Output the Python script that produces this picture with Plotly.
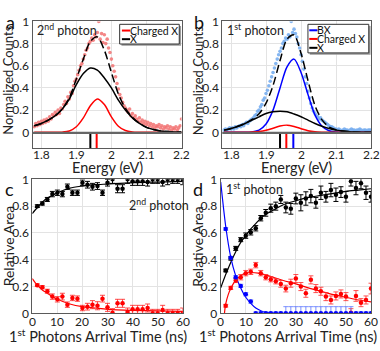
import plotly.graph_objects as go

# ---------------- DATA ----------------
# Panel a / b fit curves (energy grid read every 0.02 eV)
fit_energy = [1.78, 1.80, 1.82, 1.84, 1.86, 1.88, 1.90, 1.92, 1.94, 1.96, 1.98,
              2.00, 2.02, 2.04, 2.06, 2.08, 2.10, 2.12, 2.14, 2.16, 2.18, 2.20]
a_fit_X = [0.06, 0.08, 0.11, 0.15, 0.21, 0.30, 0.43, 0.53, 0.58, 0.56, 0.49,
           0.40, 0.29, 0.20, 0.13, 0.08, 0.045, 0.025, 0.013, 0.007, 0.003, 0.002]
a_fit_CX = [0.0, 0.0, 0.0, 0.0, 0.002, 0.012, 0.05, 0.13, 0.24, 0.30, 0.25,
            0.14, 0.055, 0.016, 0.004, 0.001, 0.0, 0.0, 0.0, 0.0, 0.0, 0.0]
a_fit_sum = [0.06, 0.08, 0.11, 0.15, 0.212, 0.312, 0.48, 0.66, 0.82, 0.86, 0.74,
             0.54, 0.345, 0.216, 0.134, 0.081, 0.045, 0.025, 0.013, 0.007, 0.003, 0.002]

b_fit_BX = [0.0, 0.0, 0.0, 0.0, 0.004, 0.02, 0.075, 0.20, 0.40, 0.59, 0.66,
            0.54, 0.34, 0.155, 0.055, 0.014, 0.003, 0.0, 0.0, 0.0, 0.0, 0.0]
b_fit_CX = [0.0, 0.0, 0.0, 0.0, 0.002, 0.007, 0.018, 0.037, 0.057, 0.065, 0.053,
            0.033, 0.015, 0.005, 0.0015, 0.0, 0.0, 0.0, 0.0, 0.0, 0.0, 0.0]
b_fit_X = [0.02, 0.035, 0.055, 0.08, 0.11, 0.14, 0.17, 0.185, 0.19, 0.185, 0.165,
           0.14, 0.11, 0.08, 0.055, 0.035, 0.02, 0.012, 0.006, 0.003, 0.001, 0.0005]
b_fit_sum = [0.02, 0.035, 0.055, 0.08, 0.116, 0.167, 0.263, 0.422, 0.647, 0.84, 0.878,
             0.713, 0.465, 0.24, 0.112, 0.049, 0.023, 0.012, 0.006, 0.003, 0.001, 0.0005]

# measured spectra (energy step 0.004 eV from 1.78 eV)
spec_energy = [round(1.78 + 0.004 * i, 3) for i in range(106)]
a_counts = [0.05, 0.08, 0.06, 0.09, 0.07, 0.10, 0.08, 0.11, 0.09, 0.12,
            0.10, 0.14, 0.12, 0.16, 0.15, 0.18, 0.16, 0.20, 0.17, 0.22,
            0.21, 0.25, 0.28, 0.26, 0.32, 0.30, 0.36, 0.35, 0.42, 0.46,
            0.48, 0.52, 0.56, 0.60, 0.62, 0.66, 0.70, 0.74, 0.76, 0.80,
            0.82, 0.85, 0.83, 0.88, 0.86, 0.90, 1.00, 0.84, 0.89, 0.81,
            0.88, 0.80, 0.84, 0.76, 0.72, 0.66, 0.60, 0.55, 0.50, 0.44,
            0.39, 0.34, 0.31, 0.27, 0.24, 0.22, 0.20, 0.18, 0.21, 0.15,
            0.17, 0.13, 0.15, 0.12, 0.10, 0.13, 0.09, 0.11, 0.08, 0.10,
            0.07, 0.09, 0.06, 0.08, 0.05, 0.07, 0.04, 0.06, 0.05, 0.07,
            0.04, 0.06, 0.03, 0.05, 0.04, 0.06, 0.03, 0.05, 0.02, 0.04,
            0.03, 0.05, 0.02, 0.04, 0.06, 0.12]
b_counts = [0.02, 0.03, 0.02, 0.03, 0.04, 0.03, 0.04, 0.03, 0.05, 0.04,
            0.05, 0.06, 0.05, 0.07, 0.06, 0.08, 0.09, 0.08, 0.10, 0.11,
            0.12, 0.13, 0.15, 0.16, 0.19, 0.20, 0.23, 0.25, 0.29, 0.31,
            0.35, 0.38, 0.42, 0.46, 0.50, 0.54, 0.58, 0.62, 0.66, 0.70,
            0.73, 0.76, 0.80, 0.82, 0.85, 0.84, 0.88, 0.86, 1.00, 0.90,
            0.93, 0.89, 0.86, 0.80, 0.76, 0.70, 0.64, 0.57, 0.50, 0.44,
            0.37, 0.31, 0.26, 0.22, 0.19, 0.17, 0.15, 0.14, 0.12, 0.13,
            0.11, 0.10, 0.09, 0.08, 0.07, 0.06, 0.05, 0.05, 0.04, 0.03,
            0.03, 0.02, 0.03, 0.02, 0.01, 0.02, 0.03, 0.02, 0.02, 0.01,
            0.02, 0.03, 0.02, 0.02, 0.01, 0.02, 0.02, 0.03, 0.02, 0.01,
            0.02, 0.02, 0.01, 0.02, 0.02, 0.02]

# peak positions (stick markers)
a_peaks = [1.940, 1.958]
a_peak_colors = ["black", "red"]
b_peaks = [1.940, 1.958, 1.978]
b_peak_colors = ["black", "red", "blue"]

# Panels c / d : time-resolved relative areas
t = list(range(2, 61, 2))
c_X = [0.80, 0.82, 0.85, 0.89, 0.90, 0.89, 0.945, 0.90, 0.90, 0.975,
       0.96, 0.945, 0.95, 0.90, 0.975, 1.0, 0.93, 0.93, 1.0, 0.985,
       0.985, 0.985, 0.98, 1.0, 1.0, 0.98, 1.0, 1.0, 1.0, 1.0]
c_X_err = [0.01, 0.012, 0.015, 0.02, 0.02, 0.02, 0.02, 0.02, 0.02, 0.02,
           0.025, 0.025, 0.025, 0.02, 0.025, 0.03, 0.03, 0.03, 0.03, 0.03,
           0.03, 0.03, 0.03, 0.03, 0.03, 0.03, 0.04, 0.03, 0.03, 0.04]
c_CX = [0.21, 0.195, 0.165, 0.125, 0.105, 0.125, 0.065, 0.115, 0.11, 0.04,
        0.05, 0.065, 0.057, 0.11, 0.045, 0.005, 0.075, 0.075, 0.01, 0.03,
        0.03, 0.03, 0.04, 0.0, 0.0, 0.025, 0.0, 0.0, 0.0, 0.0]
c_CX_err = [0.01, 0.012, 0.015, 0.02, 0.02, 0.025, 0.02, 0.02, 0.02, 0.02,
            0.025, 0.03, 0.03, 0.025, 0.03, 0.03, 0.03, 0.03, 0.03, 0.03,
            0.03, 0.03, 0.03, 0.03, 0.03, 0.035, 0.03, 0.03, 0.03, 0.04]
c_fit_t = [0, 2, 4, 6, 8, 10, 15, 20, 25, 30, 40, 50, 60]
c_fit_X = [0.745, 0.79, 0.83, 0.86, 0.88, 0.90, 0.935, 0.95, 0.96, 0.965, 0.975, 0.98, 0.985]
c_fit_CX = [0.26, 0.21, 0.175, 0.15, 0.125, 0.105, 0.07, 0.05, 0.04, 0.03, 0.022, 0.018, 0.015]

d_X = [0.32, 0.41, 0.485, 0.55, 0.58, 0.605, 0.635, 0.71, 0.75, 0.785,
       0.80, 0.85, 0.79, 0.78, 0.857, 0.825, 0.857, 0.875, 0.825, 0.90,
       0.87, 0.92, 0.885, 0.905, 0.87, 0.985, 0.935, 0.97, 0.90, 0.87]
d_X_err = [0.01, 0.012, 0.015, 0.015, 0.02, 0.02, 0.02, 0.02, 0.025, 0.03,
           0.03, 0.03, 0.04, 0.04, 0.04, 0.06, 0.05, 0.05, 0.04, 0.05,
           0.04, 0.05, 0.05, 0.04, 0.04, 0.035, 0.05, 0.04, 0.05, 0.04]
d_CX = [0.057, 0.19, 0.245, 0.27, 0.30, 0.31, 0.36, 0.30, 0.27, 0.255,
        0.24, 0.22, 0.185, 0.225, 0.26, 0.20, 0.15, 0.25, 0.185, 0.165,
        0.125, 0.10, 0.13, 0.145, 0.125, 0.005, 0.13, 0.08, 0.10, 0.185]
d_CX_err = [0.01, 0.012, 0.015, 0.02, 0.02, 0.02, 0.02, 0.02, 0.02, 0.02,
            0.02, 0.025, 0.025, 0.03, 0.03, 0.03, 0.03, 0.03, 0.03, 0.03,
            0.03, 0.03, 0.03, 0.03, 0.03, 0.03, 0.04, 0.03, 0.03, 0.04]
d_BX = [0.63, 0.415, 0.27, 0.205, 0.143, 0.088, 0.0, 0.0, 0.0, 0.0,
        0.0, 0.0, 0.0, 0.0, 0.0, 0.0, 0.0, 0.0, 0.0, 0.0,
        0.0, 0.0, 0.0, 0.0, 0.0, 0.0, 0.0, 0.0, 0.0, 0.0]
d_BX_err = [0.01, 0.01, 0.012, 0.012, 0.012, 0.012, 0.01, 0.01, 0.01, 0.01,
            0.01, 0.01, 0.05, 0.05, 0.05, 0.05, 0.05, 0.05, 0.05, 0.05,
            0.05, 0.05, 0.05, 0.05, 0.05, 0.05, 0.01, 0.01, 0.01, 0.01]
d_fit_t = [0, 2, 4, 6, 8, 10, 12, 14, 16, 18, 20, 25, 30, 35, 40, 45, 50, 55, 60]
d_fit_X = [0.19, 0.29, 0.38, 0.46, 0.53, 0.58, 0.63, 0.67, 0.71, 0.74, 0.76,
           0.81, 0.84, 0.865, 0.88, 0.895, 0.91, 0.92, 0.93]
d_fit_BX = [0.98, 0.65, 0.42, 0.28, 0.19, 0.12, 0.075, 0.04, 0.02, 0.008, 0.003,
            0.0, 0.0, 0.0, 0.0, 0.0, 0.0, 0.0, 0.0]
d_fit_CX_t = [1.5, 2, 3, 4, 5, 6, 8, 10, 12, 15, 20, 25, 30, 35, 40, 45, 50, 55, 60]
d_fit_CX = [0.0, 0.07, 0.14, 0.185, 0.22, 0.245, 0.28, 0.30, 0.305, 0.30, 0.275,
            0.245, 0.22, 0.19, 0.165, 0.14, 0.12, 0.10, 0.085]

energy_ticks = [1.8, 1.9, 2.0, 2.1, 2.2]
energy_ticktext = ["1.8", "1.9", "2", "2.1", "2.2"]
y_ticks = [0, 0.2, 0.4, 0.6, 0.8, 1.0]
y_ticktext = ["0", "0.2", "0.4", "0.6", "0.8", "1"]
t_ticks = [0, 10, 20, 30, 40, 50, 60]
t_ticktext = ["0", "10", "20", "30", "40", "50", "60"]

# ---------------- FIGURE ----------------
FONT = "Lato"
W, H = 380, 351
fig = go.Figure()

SPEC_YMIN = -0.145

def px_x(p):
    return p / W

def px_y(p):
    return 1 - p / H

dom = {
    "a": ([px_x(32.5), px_x(181.5)], [px_y(146.7), px_y(14)]),
    "b": ([px_x(222.3), px_x(371)], [px_y(146.7), px_y(14)]),
    "c": ([px_x(32.3), px_x(182.7)], [px_y(319), px_y(179)]),
    "d": ([px_x(220.7), px_x(371)], [px_y(319), px_y(179)]),
}
ax_ids = {"a": ("x", "y"), "b": ("x2", "y2"), "c": ("x3", "y3"), "d": ("x4", "y4")}

LW = 1.5

def line(xs, ys, color, panel, dash="solid", width=LW):
    xa, ya = ax_ids[panel]
    fig.add_trace(go.Scatter(x=xs, y=ys, mode="lines", line=dict(color=color, width=width, dash=dash,
                                                                shape="spline", smoothing=0.8),
                             xaxis=xa, yaxis=ya, showlegend=False, hoverinfo="skip"))

def pts(xs, ys, color, panel, size=4, err=None, errcolor=None, opacity=1.0):
    xa, ya = ax_ids[panel]
    kw = {}
    if err is not None:
        kw["error_y"] = dict(type="data", array=err, visible=True, color=errcolor or color,
                             thickness=1, width=2.5)
    fig.add_trace(go.Scatter(x=xs, y=ys, mode="markers",
                             marker=dict(color=color, size=size, opacity=opacity, line=dict(width=0)),
                             xaxis=xa, yaxis=ya, showlegend=False, **kw))

def sticks(peaks, colors, panel):
    xa, ya = ax_ids[panel]
    for e, c in zip(peaks, colors):
        fig.add_trace(go.Scatter(x=[e, e], y=[SPEC_YMIN, -0.012], mode="lines",
                                 line=dict(color=c, width=2), xaxis=xa, yaxis=ya,
                                 showlegend=False, hoverinfo="skip"))

# panel a
pts(spec_energy, a_counts, "#f27272", "a", size=3.6, opacity=0.85)
line(fit_energy, a_fit_CX, "red", "a")
line(fit_energy, a_fit_X, "black", "a")
line(fit_energy, a_fit_sum, "black", "a", dash="8px,4px")
sticks(a_peaks, a_peak_colors, "a")

# panel b
pts(spec_energy, b_counts, "#78aef0", "b", size=3.6, opacity=0.9)
line(fit_energy, b_fit_BX, "blue", "b")
line(fit_energy, b_fit_CX, "red", "b")
line(fit_energy, b_fit_X, "black", "b")
line(fit_energy, b_fit_sum, "black", "b", dash="8px,4px")
sticks(b_peaks, b_peak_colors, "b")

# panel c
line(c_fit_t, c_fit_X, "black", "c", width=1.2)
line(c_fit_t, c_fit_CX, "red", "c", width=1.2)
pts(t, c_X, "black", "c", size=4.5, err=c_X_err)
pts(t, c_CX, "red", "c", size=4.5, err=c_CX_err, errcolor="rgba(255,40,40,0.85)")

# panel d
line(d_fit_t, d_fit_X, "black", "d", width=1.2)
line(d_fit_CX_t, d_fit_CX, "red", "d", width=1.2)
line(d_fit_t, d_fit_BX, "blue", "d", width=1.2)
pts(t, d_X, "black", "d", size=4.5, err=d_X_err)
pts(t, d_CX, "red", "d", size=4.5, err=d_CX_err, errcolor="rgba(255,40,40,0.8)")
pts(t, d_BX, "blue", "d", size=4.5, err=d_BX_err, errcolor="rgba(70,100,255,0.7)")

GRID = "#e3e3e3"
FRAME = "#5a5a5a"
TICK_SIZE = 12
tickfont = dict(family=FONT, size=TICK_SIZE, color="#222")
XTITLE_SIZE = 14.5

layout = dict(
    width=W, height=H, margin=dict(l=0, r=0, t=0, b=0),
    paper_bgcolor="white", plot_bgcolor="white", showlegend=False,
    font=dict(family=FONT, color="#222"),
)

for p in "abcd":
    xa, ya = ax_ids[p]
    xk = "xaxis" + xa[1:]
    yk = "yaxis" + ya[1:]
    xdom, ydom = dom[p]
    spectral = p in "ab"
    layout[xk] = dict(
        domain=xdom, anchor=ya,
        range=[1.775, 2.2] if spectral else [0, 60],
        tickvals=energy_ticks if spectral else t_ticks,
        showticklabels=False,
        showgrid=True, gridcolor=GRID, gridwidth=1, zeroline=False,
        showline=True, mirror=True, linecolor=FRAME, linewidth=1, ticks="",
    )
    layout[yk] = dict(
        domain=ydom, anchor=xa,
        range=[SPEC_YMIN, 1.0] if spectral else [0, 1.0],
        tickvals=y_ticks, ticktext=y_ticktext,
        showgrid=True, gridcolor=GRID, gridwidth=1, zeroline=False,
        showline=True, mirror=True, linecolor=FRAME, linewidth=1,
        ticks="", tickfont=tickfont, ticklabelstandoff=0,
    )

shapes = []
annotations = []

# x tick labels, positioned on the axis scale just under each panel
for p in "abcd":
    xa, _ = ax_ids[p]
    spectral = p in "ab"
    vals = energy_ticks if spectral else t_ticks
    texts = energy_ticktext if spectral else t_ticktext
    ypix = 153 if spectral else 328
    for v, s in zip(vals, texts):
        annotations.append(dict(xref=xa, yref="paper", x=v, y=px_y(ypix), text=s, showarrow=False,
                                xanchor="center", yanchor="middle", font=tickfont, borderpad=0))

# axis titles as paper annotations
def ptext(x, y, text, size, angle=0, anchor="center"):
    annotations.append(dict(xref="paper", yref="paper", x=px_x(x), y=px_y(y), text=text,
                            showarrow=False, xanchor=anchor, yanchor="middle", textangle=angle,
                            borderpad=0, font=dict(family=FONT, size=size, color="#222")))

ptext(107, 167, "Energy (eV)", XTITLE_SIZE)
ptext(296.6, 167, "Energy (eV)", XTITLE_SIZE)
ptext(8, 76, "Normalized Counts", 13, angle=-90)
ptext(197.5, 76, "Normalized Counts", 13, angle=-90)
ptext(8, 249, "Relative Area", 14, angle=-90)
ptext(197.5, 249, "Relative Area", 14, angle=-90)
ptext(98, 342, "1<sup>st</sup> Photons Arrival Time (ns)", XTITLE_SIZE)
ptext(288, 342, "1<sup>st</sup> Photons Arrival Time (ns)", XTITLE_SIZE)

# white band + baseline in spectral panels
for p in "ab":
    xa, ya = ax_ids[p]
    shapes.append(dict(type="rect", xref=xa + " domain", yref=ya, x0=0, x1=1, y0=SPEC_YMIN, y1=0,
                       fillcolor="white", line=dict(width=0), layer="below"))
    shapes.append(dict(type="line", xref=xa + " domain", yref=ya, x0=0, x1=1, y0=-0.004, y1=-0.004,
                       line=dict(color="#666", width=2.2), layer="above"))

# manual legends
def legend(panel, x0, x1, y0, y1, rows):
    xa, ya = ax_ids[panel]
    xr, yr = xa + " domain", ya + " domain"
    shapes.append(dict(type="rect", xref=xr, yref=yr, x0=x0 + 0.012, x1=x1 + 0.012, y0=y0 - 0.014, y1=y1 - 0.014,
                       fillcolor="#9a9a9a", line=dict(width=0), layer="above"))
    shapes.append(dict(type="rect", xref=xr, yref=yr, x0=x0, x1=x1, y0=y0, y1=y1,
                       fillcolor="white", line=dict(color="#333", width=1), layer="above"))
    for (label, color, yy, lx0, lx1) in rows:
        shapes.append(dict(type="line", xref=xr, yref=yr, x0=lx0, x1=lx1, y0=yy, y1=yy,
                           line=dict(color=color, width=2), layer="above"))
        annotations.append(dict(xref=xr, yref=yr, x=lx1 + 0.004, y=yy, text=label, showarrow=False,
                                xanchor="left", yanchor="middle", xshift=-2, borderpad=0,
                                font=dict(family=FONT, size=10.5, color="#111")))

legend("a", 0.585, 0.985, 0.822, 0.977,
       [("Charged X", "red", 0.928, 0.600, 0.655), ("X", "black", 0.860, 0.600, 0.655)])
legend("b", 0.576, 0.985, 0.752, 0.977,
       [("BX", "blue", 0.930, 0.585, 0.640), ("Charged X", "red", 0.862, 0.585, 0.640),
        ("X", "black", 0.792, 0.585, 0.640)])

# in-panel labels
def label(panel, x, y, text, anchor="left"):
    xa, ya = ax_ids[panel]
    annotations.append(dict(xref=xa + " domain", yref=ya + " domain", x=x, y=y, text=text,
                            showarrow=False, xanchor=anchor, yanchor="middle",
                            font=dict(family=FONT, size=12.5, color="#222")))

label("a", 0.015, 0.935, "2<sup>nd</sup> photon")
label("b", 0.015, 0.935, "1<sup>st</sup> photon")
label("c", 0.63, 0.81, "2<sup>nd</sup> photon")
label("d", 0.02, 0.93, "1<sup>st</sup> photon")

# panel letters
for letter, x, y in [("a", 4, 1), ("b", 192, 1), ("c", 3, 175), ("d", 191, 175)]:
    annotations.append(dict(xref="paper", yref="paper", x=px_x(x), y=px_y(y), text=letter,
                            showarrow=False, xanchor="left", yanchor="top",
                            font=dict(family=FONT, size=18, color="#111")))

layout["shapes"] = shapes
layout["annotations"] = annotations
fig.update_layout(**layout)
fig.write_html("out.html")
